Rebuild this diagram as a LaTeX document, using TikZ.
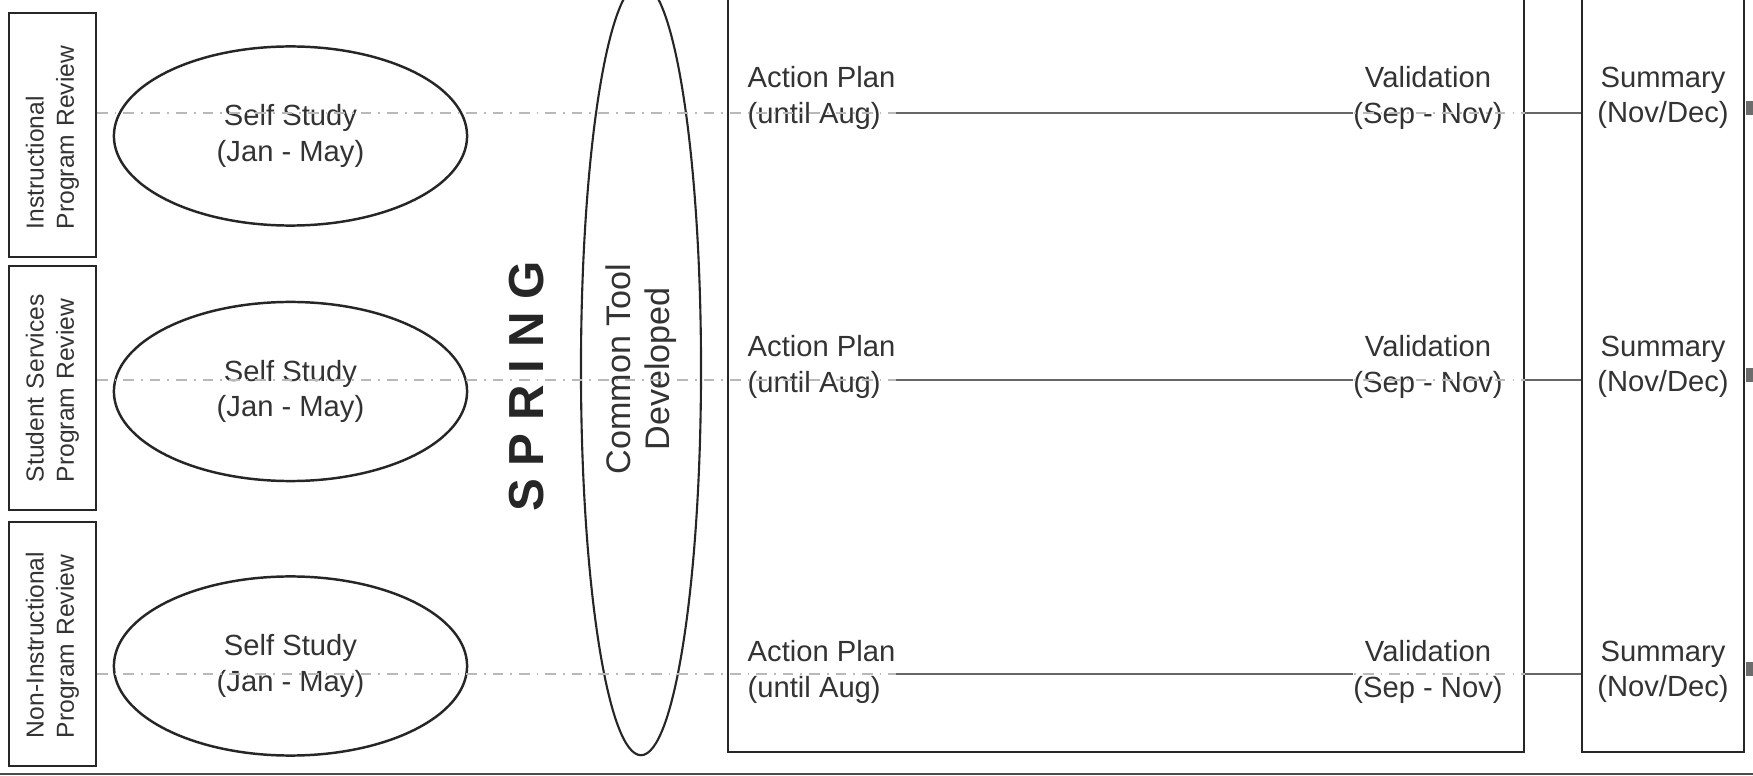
\documentclass[tikz,border=0pt]{standalone}
\usepackage{fontspec}
\setmainfont{Liberation Sans}
\newfontfamily\springfont[LetterSpace=25]{Liberation Sans}
\usetikzlibrary{shapes.geometric, calc, positioning}

\tikzset{
	reviewbox/.style={draw=black!85, line width=0.6pt, rotate=90, text width=1.88cm, inner xsep=0.28cm, minimum height=0.87cm, align=left, text=black!80, font=\fontsize{7}{8.6}\selectfont},
	studyoval/.style={draw=black!85, line width=0.7pt, ellipse, minimum width=3.53cm, minimum height=1.79cm, inner sep=0pt, align=center, text=black!80, font=\fontsize{8.3}{10}\selectfont},
	phasetext/.style={inner sep=0pt, text=black!80, font=\fontsize{8.3}{10}\selectfont},
	stagebox/.style={draw=black!85, line width=0.6pt, inner sep=0pt, minimum height=7.82cm},
	timeline/.style={draw=gray!55, line width=0.5pt, dash dot},
	darkline/.style={draw=black!60, line width=0.6pt}
}

\begin{document}
\begin{tikzpicture}[x=0.01cm, y=-0.01cm]
	\useasboundingbox (0,0) rectangle (1753,776);
	\clip (0,0) rectangle (1753,776);

	% the three review rows
	\foreach \i/\y in {1/113, 2/380, 3/674}{
		\coordinate (row\i) at (0,\y);
	}

	\node[reviewbox] (review1) at (52.5,135) {Instructional\\Program Review};
	\node[reviewbox] (review2) at (52.5,388) {Student Services\\Program Review};
	\node[reviewbox] (review3) at (52.5,644) {Non-Instructional\\Program Review};

	\node[studyoval] (study1) at (290.5,136) {Self Study\\(Jan - May)};
	\node[studyoval] (study2) at (290.5,391.5) {Self Study\\(Jan - May)};
	\node[studyoval] (study3) at (290.5,666) {Self Study\\(Jan - May)};

	\node[rotate=90, inner sep=0pt, text=black!85, font=\springfont\bfseries\fontsize{14}{14}\selectfont] (spring) at (527,386) {SPRING};

	\node[draw=black!85, line width=0.6pt, ellipse, rotate=90, minimum width=7.72cm, minimum height=1.2cm, inner sep=0pt, align=center, text=black!80, font=\fontsize{9.7}{11}\selectfont] (tool) at (641,369) {Common Tool\\Developed};

	% follow-up stages, cut off at the top
	\node[stagebox, minimum width=7.96cm] (plan) at (1126,361) {};
	\node[stagebox, minimum width=1.62cm] (summary) at (1663,361) {};

	\foreach \i/\y in {1/98, 2/367, 3/672}{
		\node[phasetext, align=left, anchor=west] (act\i) at (747,\y) {Action Plan\\(until Aug)};
		\node[phasetext, align=center] (valid\i) at (1428,\y) {Validation\\(Sep - Nov)};
		\node[phasetext, align=center] (summ\i) at (1663,\y) {Summary\\(Nov/Dec)};
	}

	% south is the right side of the turned boxes
	\foreach \i in {1,2,3}{
		\draw[timeline] (review\i.south |- row\i) -- (summary.west |- row\i);
		\draw[darkline] (act\i.east |- row\i) -- (valid\i.west |- row\i);
		\draw[darkline] (plan.east |- row\i) -- (summary.west |- row\i);
		\fill[gray!85!black] ($(row\i)+(1746,-12)$) rectangle ++(7,14);
	}

	\draw[black!70, line width=0.8pt] (0,774) -- (1753,774);
\end{tikzpicture}
\end{document}
